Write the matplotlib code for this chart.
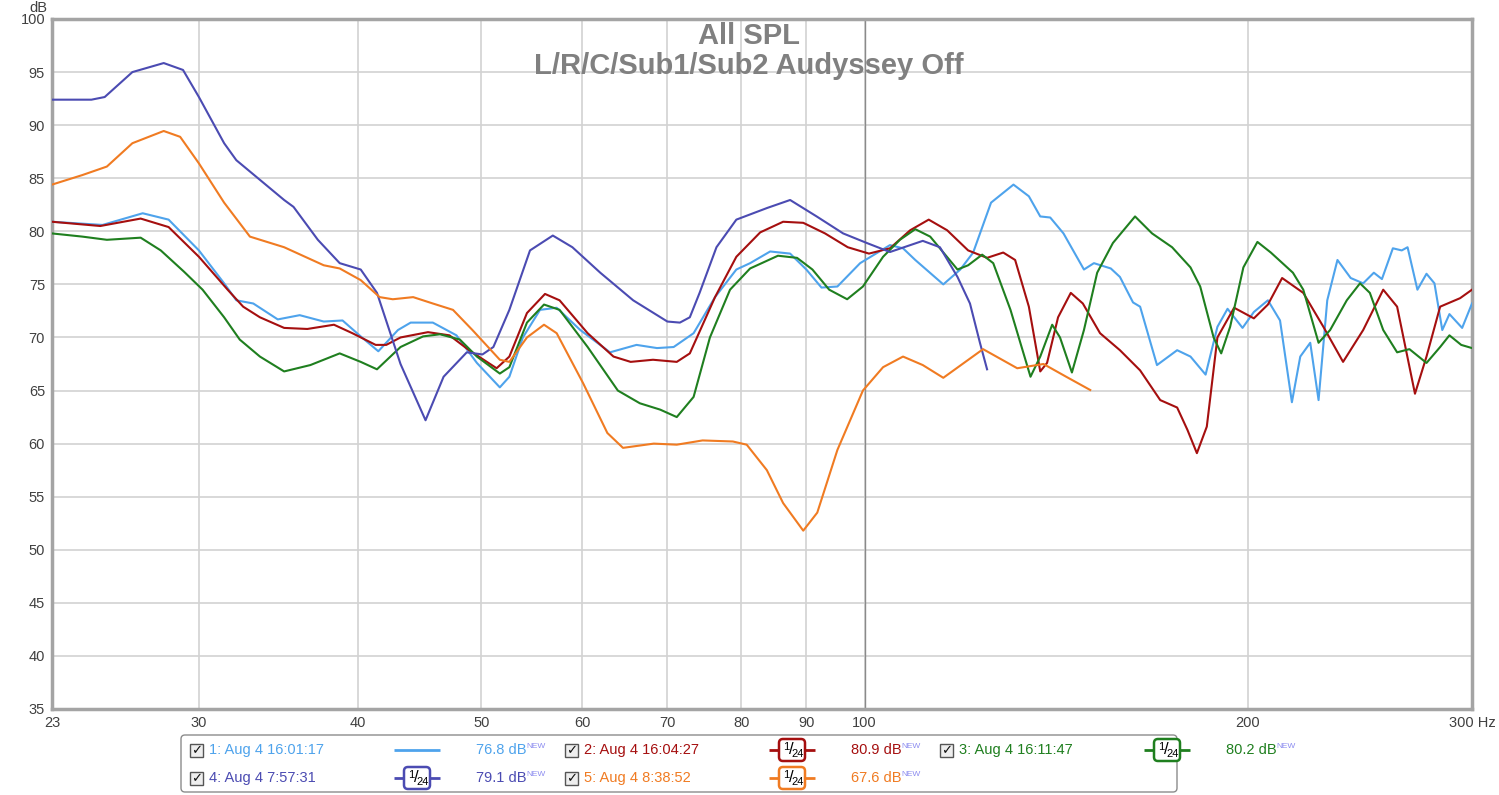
import matplotlib.pyplot as plt
from matplotlib.patches import Rectangle, FancyBboxPatch
from matplotlib.ticker import FixedLocator, NullLocator

plt.rcParams['font.family'] = ['Liberation Sans', 'DejaVu Sans']

# legend entries
names = ['1: Aug 4 16:01:17', '2: Aug 4 16:04:27', '3: Aug 4 16:11:47',
         '4: Aug 4 7:57:31', '5: Aug 4 8:38:52']
levels = ['76.8 dB', '80.9 dB', '80.2 dB', '79.1 dB', '67.6 dB']
colors = ['#4ea3ec', '#a50f0f', '#1f7f1f', '#4b4bb2', '#f07b22']
smoothed = [False, True, True, True, True]

x_ticks = [23, 30, 40, 50, 60, 70, 80, 90, 100, 200, 300]
x_labels = ['23', '30', '40', '50', '60', '70', '80', '90', '100', '200', '300 Hz']
y_ticks = list(range(35, 101, 5))

# 1: Aug 4 16:01:17
freq_1 = [23.0, 25.2, 27.1, 28.4, 30.0, 31.4, 32.1, 33.1, 34.6, 36.0, 37.6, 38.9,
          40.2, 41.5, 43.0, 44.0, 45.8, 47.8, 49.6, 51.7, 52.6, 53.9, 55.6, 57.3,
          59.8, 63.1, 66.2, 68.7, 70.8, 73.4, 76.3, 79.3, 81.3, 84.3, 87.4, 90.0,
          92.5, 95.2, 99.2, 104.7, 107.2, 109.6, 115.3, 118.9, 121.7, 125.7, 130.9,
          134.6, 137.4, 139.9, 143.3, 148.7, 151.4, 156.1, 158.7, 162.5, 164.6,
          169.7, 176.0, 180.3, 185.3, 189.3, 192.8, 198.1, 202.2, 207.4, 212.0,
          216.6, 219.9, 223.9, 227.3, 230.9, 235.2, 240.9, 246.4, 251.2, 254.9,
          260.0, 264.2, 267.0, 271.8, 276.3, 280.3, 284.3, 288.0, 294.7, 300.0]
spl_1 = [80.9, 80.6, 81.7, 81.1, 78.2, 75.1, 73.5, 73.2, 71.7, 72.1, 71.5, 71.6,
         70.1, 68.7, 70.7, 71.4, 71.4, 70.2, 67.6, 65.3, 66.3, 70.0, 72.6, 72.8,
         70.7, 68.6, 69.3, 69.0, 69.1, 70.4, 73.8, 76.4, 77.0, 78.1, 77.9, 76.4,
         74.7, 74.8, 77.0, 78.7, 78.4, 77.3, 75.0, 76.4, 78.0, 82.7, 84.4,
         83.3, 81.4, 81.3, 79.8, 76.4, 77.0, 76.5, 75.7, 73.3, 72.9,
         67.4, 68.8, 68.2, 66.5, 71.0, 72.7, 70.9, 72.4, 73.5, 71.6,
         63.9, 68.2, 69.5, 64.1, 73.5, 77.3, 75.6, 75.1, 76.1, 75.5,
         78.4, 78.2, 78.5, 74.5, 76.0, 75.1, 70.7, 72.2, 70.9, 73.2]

# 2: Aug 4 16:04:27
freq_2 = [23.0, 25.1, 27.0, 28.4, 30.0, 31.6, 32.5, 33.5, 35.0, 36.5, 38.3, 39.6,
          41.3, 42.1, 43.2, 45.4, 47.2, 48.9, 51.4, 52.6, 54.3, 56.1, 57.6, 60.6,
          63.5, 65.5, 68.2, 71.2, 72.9, 76.3, 79.3, 82.8, 86.3, 89.5, 93.1, 97.0,
          100.8, 104.7, 108.6, 112.3, 116.1, 120.6, 124.8, 128.5, 131.3, 134.6,
          137.4, 139.1, 141.9, 145.2, 148.4, 153.1, 158.7, 164.6, 170.7, 176.0,
          179.3, 182.4, 185.7, 189.3, 195.1, 202.2, 207.4, 212.8, 221.1, 229.3,
          237.6, 246.4, 255.5, 262.0, 270.6, 276.3, 283.2, 293.6, 300.0]
spl_2 = [80.9, 80.5, 81.2, 80.4, 77.6, 74.5, 72.9, 71.9, 70.9, 70.8, 71.2, 70.4,
         69.3, 69.3, 70.0, 70.5, 70.2, 68.8, 67.1, 68.2, 72.3, 74.1, 73.5, 70.4,
         68.2, 67.7, 67.9, 67.7, 68.5, 73.8, 77.6, 79.9, 80.9, 80.8, 79.8, 78.5,
         77.9, 78.4, 80.1, 81.1, 80.1, 78.2, 77.5, 78.0, 77.3, 72.9,
         66.8, 67.6, 71.9, 74.2, 73.2, 70.4, 68.8, 66.9, 64.1, 63.4,
         61.3, 59.1, 61.6, 70.0, 72.8, 71.8, 73.1, 75.6, 74.2, 71.0,
         67.7, 70.7, 74.5, 72.9, 64.7, 68.2, 72.9, 73.7, 74.5]

# 3: Aug 4 16:11:47
freq_3 = [23.0, 24.3, 25.4, 27.0, 28.0, 29.2, 30.2, 31.4, 32.3, 33.5, 35.0, 36.7,
          38.7, 40.2, 41.4, 43.2, 45.0, 46.4, 48.1, 49.6, 51.7, 52.6, 54.3, 56.0,
          57.6, 60.6, 64.0, 66.6, 69.1, 71.2, 73.4, 75.6, 78.4, 81.3, 85.5, 88.5,
          91.0, 93.8, 96.9, 99.7, 103.4, 106.6, 109.6, 112.6, 118.3, 120.6, 123.7,
          126.2, 130.2, 135.0, 137.4, 140.4, 142.4, 145.5, 148.7, 152.3, 156.7,
          163.1, 168.2, 174.4, 180.3, 183.5, 188.0, 190.6, 193.7, 198.4, 203.5,
          208.5, 217.0, 221.1, 227.3, 232.1, 239.2, 245.0, 249.4, 255.5, 262.0,
          267.9, 276.3, 283.2, 288.0, 294.2, 300.0]
spl_3 = [79.8, 79.5, 79.2, 79.4, 78.2, 76.2, 74.5, 71.9, 69.8, 68.2, 66.8, 67.4,
         68.5, 67.7, 67.0, 69.1, 70.1, 70.3, 69.8, 68.2, 66.6, 67.2, 71.4, 73.1,
         72.6, 69.1, 65.0, 63.8, 63.2, 62.5, 64.4, 70.0, 74.5, 76.5, 77.7, 77.5,
         76.4, 74.5, 73.6, 74.8, 77.6, 79.2, 80.2, 79.5, 76.4, 76.8, 77.8,
         77.0, 72.6, 66.3, 68.2, 71.2, 70.0, 66.7, 70.7, 76.1, 78.9,
         81.4, 79.8, 78.5, 76.6, 74.8, 70.0, 68.5, 71.0, 76.6, 79.0,
         78.0, 76.1, 74.5, 69.5, 70.7, 73.5, 75.1, 74.2, 70.7, 68.6,
         68.9, 67.6, 69.1, 70.2, 69.3, 69.0]

# 4: Aug 4 7:57:31
freq_4 = [23.0, 24.7, 25.3, 26.6, 28.15, 29.15, 30.0, 31.4, 32.1, 35.0, 35.6, 37.2,
          38.7, 40.2, 41.4, 43.2, 45.2, 46.7, 48.7, 50.1, 51.1, 52.6, 54.6, 56.9,
          58.95, 62.0, 65.8, 70.0, 71.6, 72.9, 74.2, 76.5, 79.3, 83.85, 87.4, 91.7,
          96.2, 100.4, 104.7, 111.1, 114.6, 118.3, 121.0, 123.2, 124.8]
spl_4 = [92.4, 92.4, 92.65, 95.0, 95.85, 95.2, 92.65, 88.3, 86.7, 82.95, 82.3, 79.2,
         77.0, 76.4, 74.2, 67.5, 62.2, 66.3, 68.6, 68.4, 69.1, 72.6, 78.2, 79.6,
         78.5, 76.1, 73.5, 71.5, 71.4, 71.9, 74.2, 78.5, 81.1, 82.2, 82.95, 81.4,
         79.8, 78.9, 78.05, 79.1, 78.5, 75.7, 73.2, 69.5, 67.0]

# 5: Aug 4 8:38:52
freq_5 = [23.0, 24.3, 25.4, 26.6, 28.15, 29.0, 30.0, 31.4, 32.9, 35.0, 37.6, 38.7,
          40.2, 41.6, 42.6, 44.2, 45.8, 47.5, 49.2, 51.7, 52.6, 54.3, 56.0, 57.3,
          60.1, 62.8, 64.6, 68.3, 71.2, 74.6, 78.8, 80.8, 83.8, 86.3, 89.5, 91.8,
          95.2, 99.7, 103.4, 107.2, 111.1, 115.3, 123.9, 131.8, 138.2, 144.0, 150.4]
spl_5 = [84.4, 85.3, 86.1, 88.3, 89.45, 88.9, 86.4, 82.7, 79.5, 78.5, 76.8, 76.5,
         75.4, 73.8, 73.6, 73.8, 73.2, 72.6, 70.7, 67.9, 67.7, 70.0, 71.2, 70.4,
         65.7, 61.0, 59.6, 60.0, 59.9, 60.3, 60.2, 59.9, 57.5, 54.4, 51.8, 53.5,
         59.4, 65.0, 67.2, 68.2, 67.4, 66.2, 68.9, 67.1, 67.5, 66.3, 65.05]

freqs = [freq_1, freq_2, freq_3, freq_4, freq_5]
spls = [spl_1, spl_2, spl_3, spl_4, spl_5]

fig = plt.figure(figsize=(14.99, 7.95), dpi=100)
ax = fig.add_axes([52 / 1499, 1 - 709 / 795, 1420 / 1499, 690 / 795])

for f, s, c in zip(freqs, spls, colors):
    ax.plot(f, s, color=c, lw=1.5, solid_joinstyle='round', zorder=3)

ax.set_xscale('log')
ax.set_xlim(23, 300)
ax.set_ylim(35, 100)
ax.xaxis.set_major_locator(FixedLocator(x_ticks))
ax.xaxis.set_minor_locator(NullLocator())
ax.set_xticklabels(x_labels)
ax.set_yticks(y_ticks)
ax.tick_params(length=0, labelsize=10.5, labelcolor='#404040', pad=5)
ax.grid(True, color='#d2d2d2', lw=1.2, zorder=1)
ax.axvline(100, color='#8a8a8a', lw=1.0, zorder=2)
for sp in ax.spines.values():
    sp.set_color('#a4a4a4')
    sp.set_linewidth(2.5)

fig.text(47 / 1499, 1 - 8 / 795, 'dB', ha='right', va='center',
         fontsize=10.5, color='#404040')
fig.text(749 / 1499, 1 - 36 / 795, 'All SPL', ha='center', va='center',
         fontsize=21, fontweight='bold', color='#808080')
fig.text(749 / 1499, 1 - 66 / 795, 'L/R/C/Sub1/Sub2 Audyssey Off', ha='center',
         va='center', fontsize=21, fontweight='bold', color='#808080')

# legend panel in pixel coordinates
lg = fig.add_axes([0, 0, 1, 1], zorder=5)
lg.set_xlim(0, 1499)
lg.set_ylim(795, 0)
lg.set_axis_off()

lg.add_patch(FancyBboxPatch((181, 735), 996, 57,
                            boxstyle='round,pad=0,rounding_size=4',
                            fc='white', ec='#8c8c8c', lw=1.0))

col_x = [190, 565, 940]
row_y = [750, 778]
for i, (name, lev, c, sm) in enumerate(zip(names, levels, colors, smoothed)):
    x0 = col_x[i % 3]
    yc = row_y[i // 3]
    lg.add_patch(Rectangle((x0, yc - 6.5), 13, 13, fc='#eeeeee', ec='#555555', lw=1.0))
    lg.text(x0 + 7, yc + 0.5, '✓', ha='center', va='center', fontsize=9.5,
            fontweight='bold', color='#111111', family='DejaVu Sans')
    lg.text(x0 + 19, yc, name, ha='left', va='center', fontsize=10.5, color=c)
    cx = x0 + 227
    lg.plot([x0 + 204, x0 + 250], [yc, yc], color=c, lw=2, solid_capstyle='butt')
    if sm:
        lg.add_patch(FancyBboxPatch((cx - 13, yc - 11), 26, 22,
                                    boxstyle='round,pad=0,rounding_size=4',
                                    fc='white', ec=c, lw=1.8, zorder=3))
        lg.text(cx - 6, yc - 3, '1', ha='center', va='center', fontsize=8, zorder=4)
        lg.text(cx - 1, yc, '/', ha='center', va='center', fontsize=12, zorder=4)
        lg.text(cx + 6, yc + 4, '24', ha='center', va='center', fontsize=8, zorder=4)
    t = lg.text(x0 + 286, yc, lev, ha='left', va='center', fontsize=10.5, color=c)
    lg.annotate('NEW', xy=(1.0, 0.75), xycoords=t, ha='left', va='center',
                fontsize=6, color='#8c8cf0')

fig.savefig('out.png', dpi=100)
